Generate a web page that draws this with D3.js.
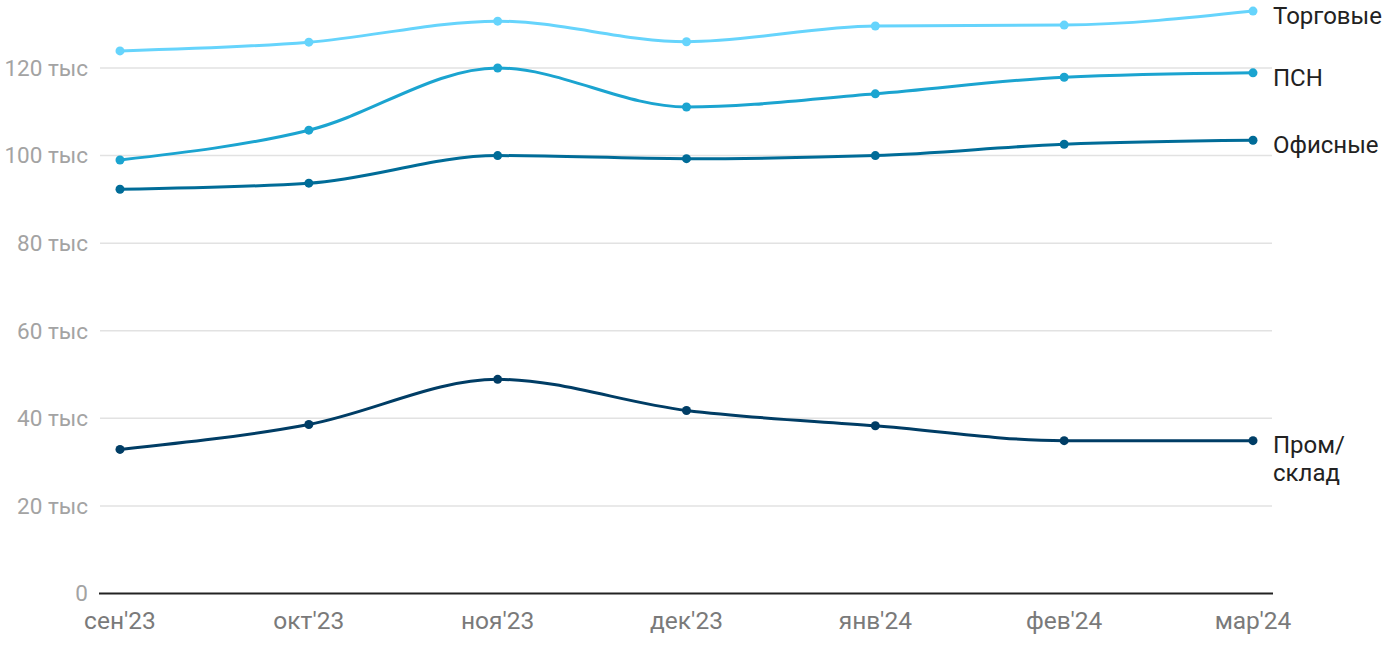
<!DOCTYPE html>
<html><head><meta charset="utf-8">
<script src="https://cdn.jsdelivr.net/npm/d3@7"></script>
<style>body{margin:0;background:#fff;font-family:Roboto,"Noto Sans",sans-serif}</style>
</head><body><svg id="c" width="1400" height="650"></svg>
<script>
const months = ["сен'23","окт'23","ноя'23","дек'23","янв'24","фев'24","мар'24"];
const trade = [123900,125900,130700,126000,129600,129800,133000];
const psn = [99000,105800,120000,111100,114100,117900,118900];
const office = [92300,93700,100000,99300,100000,102600,103500];
const prom = [32900,38600,48900,41800,38300,34900,34900];
const yTicks = [0,20000,40000,60000,80000,100000,120000];
const yTickLabels = ["0","20 тыс","40 тыс","60 тыс","80 тыс","100 тыс","120 тыс"];
const seriesNames = ["Торговые","ПСН","Офисные","Пром/склад"];
const colors = ["#66d4fc","#1ba4d0","#006c98","#003d65"];

const svg = d3.select("#c").attr("font-family","Roboto,'Noto Sans',sans-serif");
const x = d3.scalePoint().domain(months).range([120,1253]);
const y = d3.scaleLinear().domain([0,120000]).range([593.5,68]);

const grid = svg.append("g");
yTicks.forEach((t,i)=>{
  if(t>0) grid.append("line").attr("x1",100).attr("x2",1272).attr("y1",y(t)).attr("y2",y(t))
    .attr("stroke","#e2e2e2").attr("stroke-width",1.5);
  grid.append("text").attr("x",88).attr("y",y(t)+7.8).attr("text-anchor","end")
    .attr("fill","#a3a3a3").attr("font-size",22.5).text(yTickLabels[i]);
});
svg.append("line").attr("x1",99).attr("x2",1273).attr("y1",y(0)).attr("y2",y(0)).attr("stroke","#222").attr("stroke-width",2);

months.forEach(m=>{
  svg.append("text").attr("x",x(m)).attr("y",629).attr("text-anchor","middle")
    .attr("fill","#7a7a7a").attr("font-size",24.5).text(m);
});

const data = [trade,psn,office,prom];
const line = d3.line().x((d,i)=>x(months[i])).y(d=>y(d)).curve(d3.curveMonotoneX);
data.forEach((s,k)=>{
  svg.append("path").attr("d",line(s)).attr("fill","none").attr("stroke",colors[k]).attr("stroke-width",3);
  svg.selectAll(null).data(s).enter().append("circle").attr("cx",(d,i)=>x(months[i])).attr("cy",d=>y(d))
    .attr("r",4.5).attr("fill",colors[k]);
});

const lab = svg.append("g").attr("font-size",24).attr("fill","#222");
[trade,psn,office].forEach((s,k)=>{
  lab.append("text").attr("x",1273).attr("y",y(s[6])+13).text(seriesNames[k]);
});
const pt = lab.append("text").attr("x",1273).attr("y",y(prom[6])+12);
pt.append("tspan").attr("x",1273).text("Пром/");
pt.append("tspan").attr("x",1273).attr("dy",28).text("склад");
</script></body></html>
